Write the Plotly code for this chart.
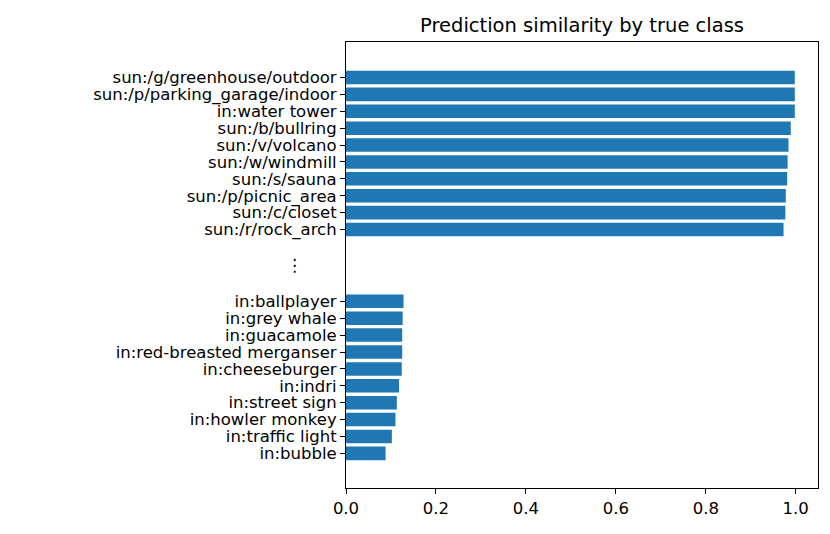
import plotly.graph_objects as go

top_labels = ["sun:/g/greenhouse/outdoor", "sun:/p/parking_garage/indoor", "in:water tower",
              "sun:/b/bullring", "sun:/v/volcano", "sun:/w/windmill", "sun:/s/sauna",
              "sun:/p/picnic_area", "sun:/c/closet", "sun:/r/rock_arch"]
top_values = [0.998, 0.998, 0.998, 0.989, 0.984, 0.982, 0.981, 0.978, 0.977, 0.973]

bottom_labels = ["in:ballplayer", "in:grey whale", "in:guacamole", "in:red-breasted merganser",
                 "in:cheeseburger", "in:indri", "in:street sign", "in:howler monkey",
                 "in:traffic light", "in:bubble"]
bottom_values = [0.128, 0.126, 0.125, 0.125, 0.124, 0.118, 0.113, 0.110, 0.102, 0.088]

x_ticks = [0.0, 0.2, 0.4, 0.6, 0.8, 1.0]
x_tick_labels = ["0.0", "0.2", "0.4", "0.6", "0.8", "1.0"]

GAP_START = 13.25
ELLIPSIS_POS = 11.08

y_top = list(range(len(top_labels)))
y_bot = [GAP_START + i for i in range(len(bottom_labels))]

labels = top_labels + bottom_labels
values = top_values + bottom_values
ypos = y_top + y_bot

FONT = "DejaVu Sans"
OFF = 8  # page body margin offset
W, H = 830 - OFF, 534 - OFF
L, R, T, B = 346 - OFF, 12, 42 - OFF, 46

fig = go.Figure()
fig.add_trace(go.Bar(
    x=values, y=ypos, orientation="h", width=0.8,
    marker=dict(color="#1f77b4", line=dict(width=0)),
    hoverinfo="x+text", text=labels, textposition="none",
))

fig.add_annotation(
    x=-0.109, xref="paper", y=ELLIPSIS_POS, yref="y",
    text="⋮", showarrow=False, font=dict(family=FONT, size=17, color="black"),
    xanchor="center", yanchor="middle",
)

fig.update_layout(
    width=W, height=H,
    margin=dict(l=L, r=R, t=T, b=B, autoexpand=False),
    paper_bgcolor="white", plot_bgcolor="white",
    showlegend=False,
    font=dict(family=FONT, size=16, color="black"),
    title=dict(text="Prediction similarity by true class", x=(L + W - R) / 2 / W,
               xanchor="center", y=1 - (25 - OFF) / H, yanchor="middle",
               font=dict(family=FONT, size=19.5, color="black")),
    xaxis=dict(range=[0, 1.0496], tickvals=x_ticks, ticktext=x_tick_labels,
               showgrid=False, zeroline=False, showline=True, linecolor="black",
               linewidth=1.1, mirror=True, ticks="outside", ticklen=5, tickwidth=1.1,
               tickcolor="black", tickfont=dict(family=FONT, size=16.5, color="black")),
    yaxis=dict(range=[24.3, -2.1], tickvals=ypos, ticktext=labels,
               showgrid=False, zeroline=False, showline=True, linecolor="black",
               linewidth=1.1, mirror=True, ticks="outside", ticklen=5, tickwidth=1.1,
               tickcolor="black", tickfont=dict(family=FONT, size=16.5, color="black")),
)

fig.write_html("out.html")
